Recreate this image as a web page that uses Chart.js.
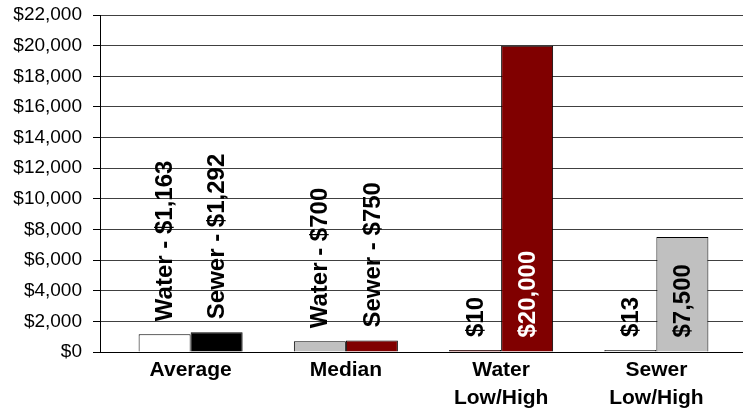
<!DOCTYPE html>
<html>
<head>
<meta charset="utf-8">
<script src="https://cdn.jsdelivr.net/npm/chart.js@4.4.1/dist/chart.umd.min.js"></script>
<style>
  html, body { margin: 0; padding: 0; background: #fff; }
  #wrap { width: 743px; height: 413px; position: relative; }
</style>
</head>
<body>
<div id="wrap"><canvas id="grafico"></canvas></div>
<script>
const categorias = [['Average'], ['Median'], ['Water', 'Low/High'], ['Sewer', 'Low/High']];
const valoresPrimeiro = [1163, 700, 10, 13];
const valoresSegundo = [1292, 750, 20000, 7500];
const rotulosPrimeiro = ['Water - $1,163', 'Water - $700', '$10', '$13'];
const rotulosSegundo = ['Sewer - $1,292', 'Sewer - $750', '$20,000', '$7,500'];
const coresPrimeiro = ['#ffffff', '#c0c0c0', '#800000', '#c0c0c0'];
const coresSegundo = ['#000000', '#800000', '#800000', '#c0c0c0'];
const rotulos = [rotulosPrimeiro, rotulosSegundo];

Chart.defaults.font.family = 'Arial, "Liberation Sans", sans-serif';
Chart.defaults.color = '#000';

// desenha os rotulos verticais das barras
const rotulosPlugin = {
    id: 'rotulosBarras',
    afterLayout(chart) {
        // as categorias ficam um pouco recolhidas dentro da area do grafico
        const x = chart.scales.x;
        x.left += 13;
        x.right -= 9;
        x.width = x.right - x.left;
        x.configure();
    },
    afterDatasetsDraw(chart) {
        const ctx = chart.ctx;
        ctx.save();
        ctx.font = 'bold 24px Arial, "Liberation Sans", sans-serif';
        ctx.textAlign = 'left';
        ctx.textBaseline = 'middle';
        chart.data.datasets.forEach((ds, i) => {
            const meta = chart.getDatasetMeta(i);
            meta.data.forEach((bar, j) => {
                const texto = rotulos[i][j];
                const largura = ctx.measureText(texto).width;
                const altura = bar.base - bar.y;
                let y;
                let cor = '#000';
                if (altura > largura + 30) {
                    y = bar.base - 14;
                    if (ds.backgroundColor[j] === '#800000') cor = '#fff';
                } else {
                    y = bar.y - 13;
                }
                ctx.save();
                ctx.translate(bar.x + 1, y);
                ctx.rotate(-Math.PI / 2);
                ctx.fillStyle = cor;
                ctx.fillText(texto, 0, 0);
                ctx.restore();
            });
        });
        ctx.restore();
    }
};

const ctxGrafico = document.getElementById('grafico').getContext('2d');
const grafico = new Chart(ctxGrafico, {
    type: 'bar',
    data: {
        labels: categorias,
        datasets: [{
            label: 'Water',
            data: valoresPrimeiro,
            backgroundColor: coresPrimeiro,
            borderColor: '#000',
            borderWidth: 1,
            minBarLength: 2
        }, {
            label: 'Sewer',
            data: valoresSegundo,
            backgroundColor: coresSegundo,
            borderColor: '#000',
            borderWidth: 1,
            minBarLength: 2
        }]
    },
    options: {
        responsive: true,
        maintainAspectRatio: false,
        animation: false,
        categoryPercentage: 0.67,
        barPercentage: 1,
        layout: {
            padding: { top: 15, right: 0, left: 0, bottom: 0 }
        },
        scales: {
            x: {
                grid: { display: false, drawTicks: false },
                border: { display: false },
                ticks: {
                    color: '#000',
                    padding: 4,
                    maxRotation: 0,
                    autoSkip: false,
                    font: { size: 21, weight: 'bold', lineHeight: 1.33 }
                },
                afterFit(scale) {
                    scale.height = 61;
                    scale.paddingLeft = 0;
                    scale.paddingRight = 0;
                }
            },
            y: {
                min: 0,
                max: 22000,
                grid: {
                    color: ctx => ctx.tick && ctx.tick.value === 0 ? '#000' : '#404040',
                    tickColor: '#000',
                    tickLength: 7
                },
                border: { color: '#000', width: 1 },
                ticks: {
                    stepSize: 2000,
                    padding: 11,
                    color: '#000',
                    font: { size: 19 },
                    callback: v => '$' + v.toLocaleString('en-US')
                },
                afterFit(scale) {
                    scale.width = 100;
                    scale.paddingTop = 0;
                    scale.paddingBottom = 0;
                }
            }
        },
        plugins: {
            legend: { display: false },
            tooltip: { enabled: false }
        }
    },
    plugins: [rotulosPlugin]
});
</script>
</body>
</html>
